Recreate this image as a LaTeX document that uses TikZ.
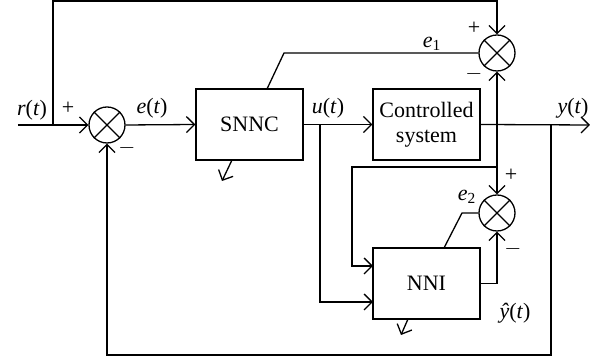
\documentclass[tikz,border=0pt]{standalone}
\usepackage{fontspec}
\setmainfont{Liberation Serif}
\usetikzlibrary{arrows.meta}
\def\cross#1{\draw (#1.45) -- (#1.225) (#1.135) -- (#1.315);}
\def\sig#1{\textit{#1}(\textit{t})}
\tikzset{
  blk/.style={draw,minimum width=53.5pt,minimum height=35.5pt,align=center,inner sep=1pt},
  sum/.style={draw,circle,minimum size=18pt,inner sep=0pt},
  lbl/.style={inner sep=1pt}
}
\begin{document}
\begin{tikzpicture}[x=0.5pt,y=-0.5pt,line width=0.65pt,>={Straight Barb[length=4pt,width=8pt]},
  font=\fontsize{11}{12.5}\selectfont]
\useasboundingbox (0,0) rectangle (602,362);
% blocks
\node[blk] (snnc) at (249.5,124.5) {SNNC};
\node[blk] (plant) at (426.5,124.5) {Controlled\\system};
\node[blk] (nni) at (426.5,283.5) {NNI};
\node[sum] (s1) at (107,125) {}; \cross{s1}
\node[sum] (s2) at (497,53) {}; \cross{s2}
\node[sum] (s3) at (497,213) {}; \cross{s3}
% points
\coordinate (rin) at (18,125);
\coordinate (j1) at (53,125);
\coordinate (tl) at (53,1);
\coordinate (a1) at (267,89);
\coordinate (k1) at (284,53);
\coordinate (ju) at (320,125);
\coordinate (ni1) at (373,266);
\coordinate (ni2) at (373,302);
\coordinate (jy2) at (497,125);
\coordinate (jb) at (497,167);
\coordinate (cb) at (352,167);
\coordinate (jy) at (551,125);
\coordinate (br) at (551,355);
\coordinate (yout) at (590,125);
\coordinate (a2) at (444,248);
\coordinate (k2) at (462,213);
\draw[->] (rin) -- (s1.west);
\draw[->] (j1) -- (tl) -| (s2.north);
\draw[->] (s1.east) -- (snnc.west);
\draw (a1) -- (k1) -- (s2.west);
\draw[->] (snnc.east) -- (plant.west);
\draw[->] (ju) |- (ni2);
\draw[->] (plant.east) -- (yout);
\draw[->] (jy2) -- (s2.south);
\draw[->] (jy2) -- (s3.north);
\draw[->] (jb) -- (cb) |- (ni1);
\draw[->] (jy) -- (br) -| (s1.south);
\draw[->] (nni.east) -| (s3.south);
\draw (a2) -- (k2) -- (s3.west);
% adaptation arrows
\draw[->] (232,160) -- (222,181);
\draw[->] (408,319) -- (401,335);
% labels
\node[lbl] (lr) at (32,110) {\sig{r}};
\node[lbl] (le) at (152,108) {\sig{e}};
\node[lbl] (lu) at (328,108) {\sig{u}};
\node[lbl] (ly) at (573,108) {\sig{y}};
\node[lbl] (le1) at (432,44) {\textit{e}\textsubscript{1}};
\node[lbl] (le2) at (467,197) {\textit{e}\textsubscript{2}};
\node[lbl] (lyh) at (515,313) {\textit{ŷ}(\textit{t})};
\node[lbl] (p1) at (68,108) {+};
\node[lbl] (m1) at (127,148) {$-$};
\node[lbl] (p2) at (474,28) {+};
\node[lbl] (m2) at (474,74) {$-$};
\node[lbl] (p3) at (511,175) {+};
\node[lbl] (m3) at (513,249) {$-$};
\end{tikzpicture}
\end{document}
